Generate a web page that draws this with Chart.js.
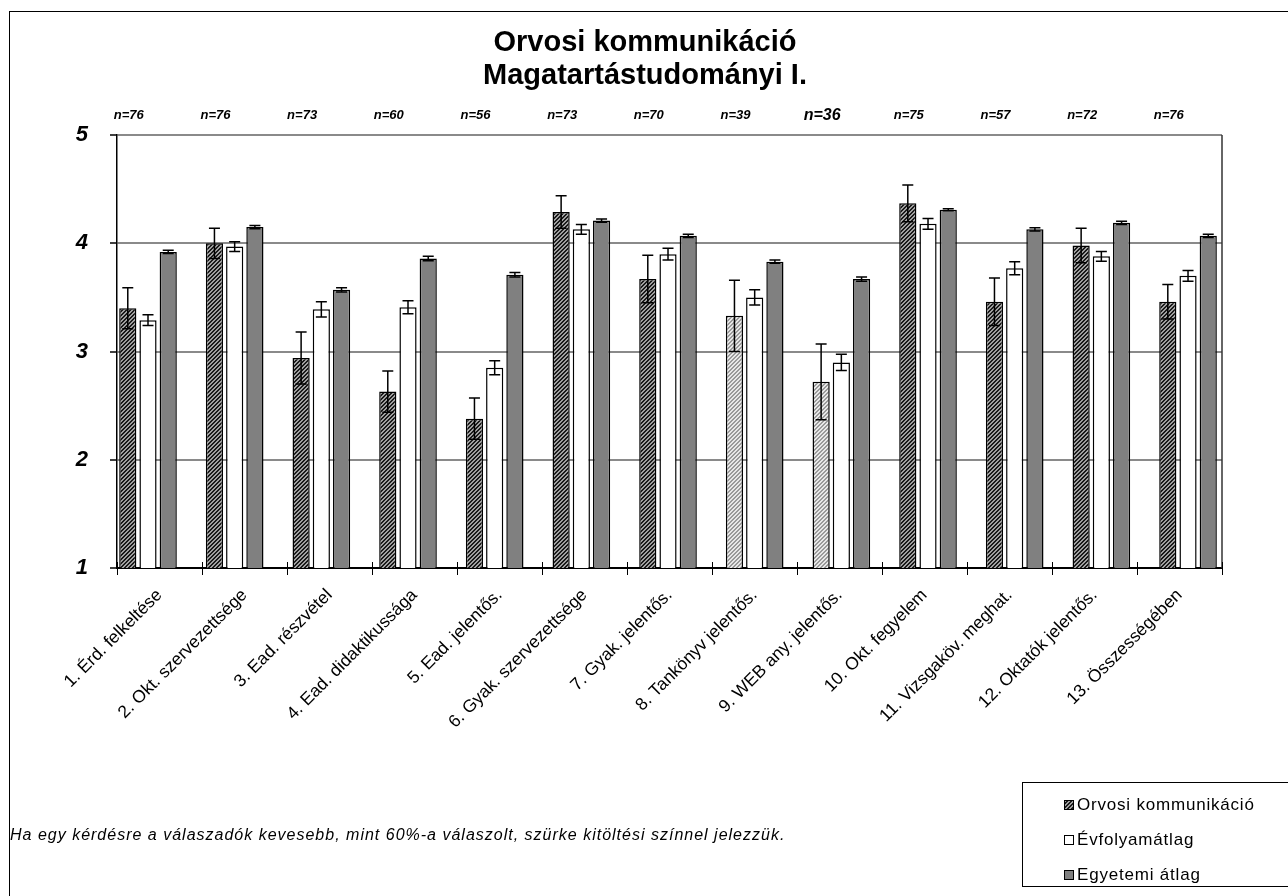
<!DOCTYPE html>
<html>
<head>
<meta charset="utf-8">
<title>Orvosi kommunikáció</title>
<script src="https://cdn.jsdelivr.net/npm/chart.js@4.4.0/dist/chart.umd.min.js"></script>
<style>
  html, body { margin: 0; padding: 0; background: #fff; }
</style>
</head>
<body>
<canvas id="myChart" width="1288" height="896"></canvas>
<script>
const categories = [
  '1. Érd. felkeltése', '2. Okt. szervezettsége', '3. Ead. részvétel',
  '4. Ead. didaktikussága', '5. Ead. jelentős.', '6. Gyak. szervezettsége',
  '7. Gyak. jelentős.', '8. Tankönyv jelentős.', '9. WEB any. jelentős.',
  '10. Okt. fegyelem', '11. Vizsgaköv. meghat.', '12. Oktatók jelentős.',
  '13. Összességében'
];
const nLabels = ['n=76', 'n=76', 'n=73', 'n=60', 'n=56', 'n=73', 'n=70', 'n=39', 'n=36', 'n=75', 'n=57', 'n=72', 'n=76'];

const orvosi      = [3.40, 4.00, 2.94, 2.63, 2.38, 4.29, 3.67, 3.33, 2.72, 4.37, 3.46, 3.98, 3.46];
const orvosiErr   = [0.19, 0.14, 0.24, 0.19, 0.19, 0.15, 0.22, 0.33, 0.35, 0.17, 0.22, 0.16, 0.16];
const evfolyam    = [3.29, 3.97, 3.39, 3.41, 2.85, 4.13, 3.90, 3.50, 2.90, 4.18, 3.77, 3.88, 3.70];
const evfolyamErr = [0.05, 0.045, 0.07, 0.06, 0.065, 0.045, 0.055, 0.07, 0.075, 0.05, 0.06, 0.045, 0.05];
const egyetemi    = [3.92, 4.15, 3.57, 3.86, 3.71, 4.21, 4.07, 3.83, 3.67, 4.31, 4.13, 4.19, 4.07];
const egyetemiErr = [0.015, 0.015, 0.02, 0.02, 0.02, 0.015, 0.015, 0.015, 0.02, 0.01, 0.015, 0.015, 0.015];
// kevesebb mint 60% valaszolt -> szurke kitoltes
const kevesValasz = [false, false, false, false, false, false, false, true, true, false, false, false, false];

const yTicks = [1, 2, 3, 4, 5];
const footnote = 'Ha egy kérdésre a válaszadók kevesebb, mint 60%-a válaszolt, szürke kitöltési színnel jelezzük.';

const FONT = "'Liberation Sans', Arial, sans-serif";
const nBig = { 'n=36': 16 };

const canvas = document.getElementById('myChart');
const ctx = canvas.getContext('2d');

function hatch(bg, fg) {
  const c = document.createElement('canvas');
  c.width = c.height = 4;
  const g = c.getContext('2d');
  g.fillStyle = bg;
  g.fillRect(0, 0, 4, 4);
  g.fillStyle = fg;
  for (let i = 0; i < 4; i++) {
    g.fillRect(i, 3 - i, 1, 1);
    g.fillRect(i, (4 - i) % 4, 1, 1);
  }
  return ctx.createPattern(c, 'repeat');
}
const darkHatch = hatch('#a0a0a0', '#1a1a1a');
const lightHatch = hatch('#e8e8e8', '#9a9a9a');

const pts = arr => arr.map((v, i) => ({ x: i, y: v }));

const extras = {
  id: 'extras',
  afterDatasetsDraw(chart) {
    const c = chart.ctx, ys = chart.scales.y;
    const errs = [orvosiErr, evfolyamErr, egyetemiErr];
    c.save();
    c.strokeStyle = '#000';
    c.lineWidth = 1.5;
    chart.data.datasets.forEach((ds, d) => {
      chart.getDatasetMeta(d).data.forEach((bar, i) => {
        const v = ds.data[i].y, e = errs[d][i];
        const t = ys.getPixelForValue(v + e), b = ys.getPixelForValue(v - e);
        c.beginPath();
        c.moveTo(bar.x, t); c.lineTo(bar.x, b);
        c.moveTo(bar.x - 5.5, t); c.lineTo(bar.x + 5.5, t);
        c.moveTo(bar.x - 5.5, b); c.lineTo(bar.x + 5.5, b);
        c.stroke();
      });
    });
    c.restore();
  },
  afterDraw(chart) {
    const c = chart.ctx, a = chart.chartArea;
    c.save();
    // plot area right edge
    c.strokeStyle = '#333';
    c.lineWidth = 1.5;
    c.beginPath();
    c.moveTo(a.right, a.top); c.lineTo(a.right, a.bottom);
    c.stroke();

    // category tick marks reach a little above the axis too
    const xs = chart.scales.x;
    c.strokeStyle = '#000';
    c.lineWidth = 1;
    c.beginPath();
    for (let i = 0; i <= categories.length; i++) {
      const px = Math.round(xs.getPixelForTick(Math.min(i, categories.length - 1)) + (i === categories.length ? xs.width / categories.length / 2 : -xs.width / categories.length / 2)) + 0.5;
      c.moveTo(px, a.bottom - 6); c.lineTo(px, a.bottom);
    }
    c.stroke();

    // n= labels above the first series
    c.fillStyle = '#000';
    c.textAlign = 'center';
    c.textBaseline = 'middle';
    chart.getDatasetMeta(0).data.forEach((bar, i) => {
      c.font = 'italic bold ' + (nBig[nLabels[i]] || 13) + 'px ' + FONT;
      c.fillText(nLabels[i], bar.x + 1, a.top - 20);
    });

    // footnote
    c.textAlign = 'left';
    c.font = 'italic 16px ' + FONT;
    c.letterSpacing = '1px';
    c.fillText(footnote, 10, 836);

    // legend box
    c.letterSpacing = '0.8px';
    c.lineWidth = 1;
    c.strokeStyle = '#000';
    c.strokeRect(1022.5, 782.5, 300, 104);
    c.font = '17px ' + FONT;
    chart.data.datasets.forEach((ds, k) => {
      const cy = 805 + k * 35;
      c.fillStyle = k === 0 ? darkHatch : ds.backgroundColor;
      c.fillRect(1064, cy - 5, 10, 10);
      c.strokeRect(1064.5, cy - 4.5, 9, 9);
      c.fillStyle = '#000';
      c.fillText(ds.label, 1077, cy);
    });
    c.letterSpacing = '0px';

    // outer frame
    c.strokeRect(9.5, 11.5, 1290, 900);
    c.restore();
  }
};

new Chart(ctx, {
  type: 'bar',
  data: {
    datasets: [
      {
        label: 'Orvosi kommunikáció',
        data: pts(orvosi),
        xAxisID: 'xb',
        backgroundColor: c => kevesValasz[c.dataIndex] ? lightHatch : darkHatch,
        borderColor: '#000',
        borderWidth: 1.5,
      },
      {
        label: 'Évfolyamátlag',
        data: pts(evfolyam),
        xAxisID: 'xb',
        backgroundColor: '#ffffff',
        borderColor: '#000',
        borderWidth: 1.5,
      },
      {
        label: 'Egyetemi átlag',
        data: pts(egyetemi),
        xAxisID: 'xb',
        backgroundColor: '#808080',
        borderColor: '#000',
        borderWidth: 1.5,
      },
    ],
  },
  options: {
    responsive: false,
    animation: false,
    categoryPercentage: 0.70,
    barPercentage: 0.85,
    layout: { padding: { left: 68, right: 66, top: 0, bottom: 0 } },
    plugins: {
      legend: { display: false },
      tooltip: { enabled: false },
      title: {
        display: true,
        text: ['Orvosi kommunikáció', 'Magatartástudományi I.'],
        color: '#000',
        font: { family: FONT, size: 29, weight: 'bold', lineHeight: 1.14 },
        padding: { top: 26, bottom: 43 },
      },
    },
    scales: {
      xb: {
        type: 'linear',
        axis: 'x',
        display: false,
        offset: false,
        min: -0.3577,
        max: 12.392,
        afterBuildTicks: s => { s.ticks = categories.map((_, i) => ({ value: i })); },
      },
      x: {
        type: 'category',
        labels: categories,
        offset: true,
        grid: { offset: true, drawOnChartArea: false, tickLength: 7, color: '#000', tickWidth: 1 },
        border: { color: '#000', width: 2 },
        ticks: {
          color: '#000',
          font: { family: FONT, size: 17.5 },
          minRotation: 45,
          maxRotation: 45,
          autoSkip: false,
          padding: 10,
        },
        afterFit: s => { s.height = 328; },
      },
      y: {
        min: 1,
        max: 5,
        afterBuildTicks: s => { s.ticks = yTicks.map(v => ({ value: v })); },
        grid: { color: '#8a8a8a', lineWidth: 2, tickLength: 7, tickColor: '#000', tickWidth: 1.5 },
        border: { color: '#000', width: 1.5 },
        ticks: {
          color: '#000',
          padding: 22,
          font: { family: FONT, size: 22, weight: 'bold', style: 'italic' },
        },
        afterFit: s => { s.width = 49; },
      },
    },
  },
  plugins: [extras],
});
</script>
</body>
</html>
